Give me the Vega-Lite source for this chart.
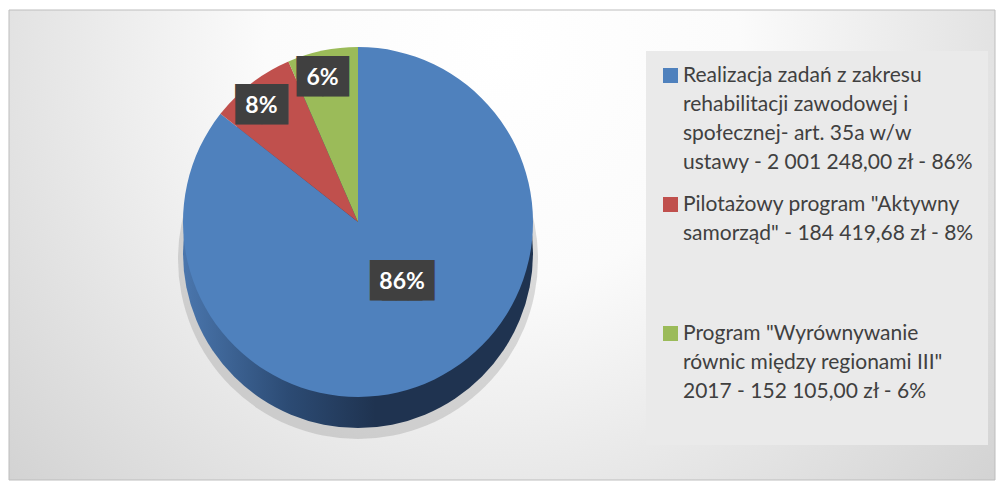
{
  "$schema": "https://vega.github.io/schema/vega-lite/v6.json",
  "autosize": {"type": "fit", "contains": "padding"},
  "width": 996,
  "height": 481,
  "padding": {"left": 8, "top": 9, "right": 0, "bottom": 0},
  "background": "white",
  "config": {
    "view": {"stroke": null},
    "style": {"guide-label": {"lineHeight": 29}},
    "legend": {
      "orient": "none",
      "legendX": 637,
      "legendY": 41,
      "fillColor": "#eaeaea",
      "padding": 14,
      "symbolType": "square",
      "symbolSize": 225,
      "symbolStrokeWidth": 0,
      "labelFont": "Lato",
      "labelFontSize": 21,
      "labelColor": "#404040",
      "labelLimit": 420,
      "labelOffset": 2,
      "rowPadding": 20
    }
  },
  "data": {
    "values": [
      {"i": 1, "label": "Realizacja zadań z zakresu|rehabilitacji zawodowej i|społecznej- art. 35a w/w|ustawy - 2 001 248,00 zł - 86%", "amount": 2001248.00, "pct": "86%"},
      {"i": 2, "label": "Pilotażowy program \"Aktywny|samorząd\" - 184 419,68 zł - 8%| | ", "amount": 184419.68, "pct": "8%"},
      {"i": 3, "label": "Program \"Wyrównywanie|równic między regionami III\"|2017 - 152 105,00 zł - 6%| ", "amount": 152105.00, "pct": "6%"}
    ]
  },
  "layer": [
    {
      "data": {"values": [{"bg": 1}]},
      "mark": {
        "type": "rect",
        "stroke": "#bdbdbd",
        "strokeWidth": 1,
        "fill": {
          "gradient": "radial",
          "x1": 0.5, "y1": 0.3, "r1": 0,
          "x2": 0.5, "y2": 0.3, "r2": 0.8,
          "stops": [
            {"offset": 0, "color": "#ffffff"},
            {"offset": 0.3, "color": "#fbfbfb"},
            {"offset": 1, "color": "#c6c6c6"}
          ]
        }
      },
      "encoding": {}
    },
    {
      "data": {"values": [{"v": 1}]},
      "mark": {"type": "arc", "x": 349, "y": 249, "radius": 180, "theta": 0, "theta2": 6.2832, "fill": "#8a8a8a", "opacity": 0.3},
      "encoding": {}
    },
    {
      "data": {"values": [{"v": 1}]},
      "mark": {
        "type": "arc", "x": 349, "y": 243, "radius": 175, "theta": 0, "theta2": 6.2832,
        "fill": {
          "gradient": "linear", "x1": 0, "y1": 0, "x2": 1, "y2": 0,
          "stops": [
            {"offset": 0, "color": "#4a76ad"},
            {"offset": 0.3, "color": "#2c4b74"},
            {"offset": 0.55, "color": "#1f3350"},
            {"offset": 1, "color": "#1f3350"}
          ]
        }
      },
      "encoding": {}
    },
    {
      "mark": {"type": "arc", "x": 349, "y": 212, "radius": 175},
      "encoding": {
        "theta": {"field": "amount", "type": "quantitative", "stack": true},
        "order": {"field": "i", "type": "quantitative"},
        "color": {
          "field": "label",
          "type": "nominal",
          "sort": {"field": "i"},
          "scale": {"range": ["#4f81bd", "#c0504d", "#9bbb59"]},
          "legend": {"title": null, "labelExpr": "split(datum.label, '|')"}
        }
      }
    },
    {
      "mark": {"type": "text", "x": 349, "y": 212, "radius": 78, "dx": 4, "dy": -10, "font": "DejaVu Sans", "fontSize": 34, "color": "#404040", "align": "center", "baseline": "middle"},
      "encoding": {
        "theta": {"field": "amount", "type": "quantitative", "stack": true},
        "order": {"field": "i", "type": "quantitative"},
        "text": {"condition": {"test": "datum.i == 1", "value": "██"}, "value": ""}
      }
    },
    {
      "mark": {"type": "text", "x": 349, "y": 212, "radius": 78, "dx": 16, "dy": -10, "font": "DejaVu Sans", "fontSize": 34, "color": "#404040", "align": "center", "baseline": "middle"},
      "encoding": {
        "theta": {"field": "amount", "type": "quantitative", "stack": true},
        "order": {"field": "i", "type": "quantitative"},
        "text": {"condition": {"test": "datum.i == 1", "value": "██"}, "value": ""}
      }
    },
    {
      "mark": {"type": "text", "x": 349, "y": 212, "radius": 150, "dx": -5, "dy": 3, "font": "DejaVu Sans", "fontSize": 34, "color": "#404040", "align": "center", "baseline": "middle"},
      "encoding": {
        "theta": {"field": "amount", "type": "quantitative", "stack": true},
        "order": {"field": "i", "type": "quantitative"},
        "text": {"condition": {"test": "datum.i != 1", "value": "██"}, "value": ""}
      }
    },
    {
      "mark": {"type": "text", "x": 349, "y": 212, "radius": 78, "dx": 10, "dy": -10, "font": "Lato", "fontSize": 23, "fontWeight": "bold", "color": "white", "align": "center", "baseline": "middle"},
      "encoding": {
        "theta": {"field": "amount", "type": "quantitative", "stack": true},
        "order": {"field": "i", "type": "quantitative"},
        "text": {"condition": {"test": "datum.i == 1", "field": "pct"}, "value": ""}
      }
    },
    {
      "mark": {"type": "text", "x": 349, "y": 212, "radius": 150, "dx": -5, "dy": 3, "font": "Lato", "fontSize": 23, "fontWeight": "bold", "color": "white", "align": "center", "baseline": "middle"},
      "encoding": {
        "theta": {"field": "amount", "type": "quantitative", "stack": true},
        "order": {"field": "i", "type": "quantitative"},
        "text": {"condition": {"test": "datum.i != 1", "field": "pct"}, "value": ""}
      }
    }
  ]
}
